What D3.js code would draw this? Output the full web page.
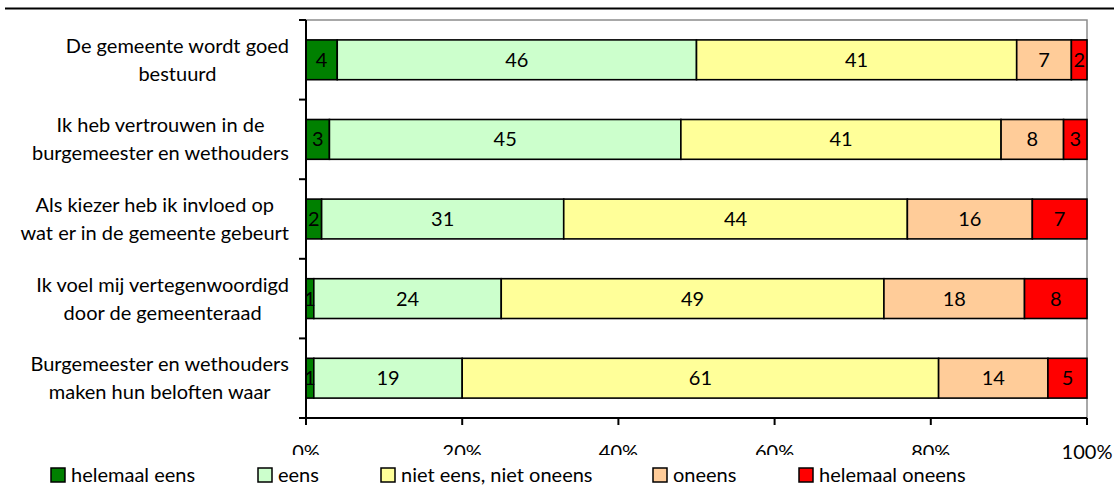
<!DOCTYPE html>
<html>
<head>
<meta charset="utf-8">
<script src="https://cdn.jsdelivr.net/npm/d3@7"></script>
<style>
  body { margin: 0; background: #fff; }
  svg { display: block; font-family: Lato, "Open Sans", sans-serif; }
</style>
</head>
<body>
<div id="chart"></div>
<script>
// data
const categories = [
  ["De gemeente wordt goed", "bestuurd"],
  ["Ik heb vertrouwen in de", "burgemeester en wethouders"],
  ["Als kiezer heb ik invloed op", "wat er in de gemeente gebeurt"],
  ["Ik voel mij vertegenwoordigd", "door de gemeenteraad"],
  ["Burgemeester en wethouders", "maken hun beloften waar"]
];
const seriesNames = ["helemaal eens", "eens", "niet eens, niet oneens", "oneens", "helemaal oneens"];
const seriesColors = ["#008000", "#ccffcc", "#ffff99", "#ffcc99", "#ff0000"];
const helemaalEens = [4, 3, 2, 1, 1];
const eens = [46, 45, 31, 24, 19];
const nietEensNietOneens = [41, 41, 44, 49, 61];
const oneens = [7, 8, 16, 18, 14];
const helemaalOneens = [2, 3, 7, 8, 5];
const xTicks = [0, 20, 40, 60, 80, 100];

const values = [helemaalEens, eens, nietEensNietOneens, oneens, helemaalOneens];

const W = 1114, H = 497;
const plot = { left: 306, right: 1087, top: 20, bottom: 418 };
const fontSize = 20;

const svg = d3.select('#chart').append('svg')
  .attr('width', W).attr('height', H);

// top rule
svg.append('line')
  .attr('x1', 5).attr('x2', W).attr('y1', 8.5).attr('y2', 8.5)
  .attr('stroke', '#000').attr('stroke-width', 2);

const x = d3.scaleLinear().domain([0, 100]).range([plot.left, plot.right]);
const keys = categories.map((c, i) => i);
const y = d3.scaleBand().domain(keys).range([plot.top, plot.bottom])
  .paddingInner(0.5).paddingOuter(0.25);

// plot area border (gray top / right)
svg.append('path')
  .attr('d', `M${plot.left},${plot.top}H${plot.right}V${plot.bottom}`)
  .attr('fill', 'none').attr('stroke', '#8c8c8c').attr('stroke-width', 1.5);

// stacked rows
const rows = keys.map(i => {
  let acc = 0;
  return values.map((s, k) => {
    const d = { row: i, k: k, v: s[i], x0: acc, x1: acc + s[i] };
    acc += s[i];
    return d;
  });
});

const g = svg.append('g');
rows.forEach(row => {
  const segs = g.selectAll(null).data(row).enter();
  segs.append('rect')
    .attr('x', d => x(d.x0))
    .attr('y', d => y(d.row))
    .attr('width', d => x(d.x1) - x(d.x0))
    .attr('height', y.bandwidth())
    .attr('fill', d => seriesColors[d.k])
    .attr('stroke', '#000').attr('stroke-width', 1.6);
  segs.append('text')
    .attr('x', d => (x(d.x0) + x(d.x1)) / 2)
    .attr('y', d => y(d.row) + y.bandwidth() / 2 + 7)
    .attr('text-anchor', 'middle')
    .attr('font-size', fontSize)
    .attr('fill', '#000')
    .text(d => d.v);
});

// y axis
const yEdges = keys.map(i => y(i) - y.step() * y.paddingOuter()).concat([plot.bottom]);
svg.append('line')
  .attr('x1', plot.left).attr('x2', plot.left)
  .attr('y1', plot.top).attr('y2', plot.bottom)
  .attr('stroke', '#000').attr('stroke-width', 2);
svg.selectAll('.ytick').data(yEdges).enter().append('line')
  .attr('x1', plot.left - 7).attr('x2', plot.left)
  .attr('y1', d => d).attr('y2', d => d)
  .attr('stroke', '#000').attr('stroke-width', 2);

// category labels, centred on their own block which ends at x = 289
categories.forEach((lines, i) => {
  const t = svg.append('text')
    .attr('font-size', fontSize).attr('fill', '#000')
    .attr('text-anchor', 'middle');
  const spans = lines.map((l, j) => t.append('tspan').text(l)
    .attr('y', y(i) + y.bandwidth() / 2 + (j === 0 ? -14 : 14) + 7));
  const maxW = d3.max(spans, s => s.node().getComputedTextLength());
  spans.forEach(s => s.attr('x', 289 - maxW / 2));
});

// x axis
svg.append('line')
  .attr('x1', plot.left - 7).attr('x2', plot.right)
  .attr('y1', plot.bottom).attr('y2', plot.bottom)
  .attr('stroke', '#000').attr('stroke-width', 2);
svg.selectAll('.xtick').data(xTicks).enter().append('line')
  .attr('x1', d => x(d)).attr('x2', d => x(d))
  .attr('y1', plot.bottom).attr('y2', plot.bottom + 7)
  .attr('stroke', '#000').attr('stroke-width', 2);

// tick labels, cut off by the legend box just like the original
const clip = svg.append('clipPath').attr('id', 'tickclip');
clip.append('rect').attr('x', 0).attr('y', 0).attr('width', W).attr('height', 455);
clip.append('rect').attr('x', 1000).attr('y', 0).attr('width', W - 1000).attr('height', H);
svg.append('g').attr('clip-path', 'url(#tickclip)')
  .selectAll('text').data(xTicks).enter().append('text')
  .attr('x', d => x(d)).attr('y', 459)
  .attr('text-anchor', 'middle')
  .attr('font-size', fontSize)
  .text(d => d + '%');

// legend
const legendX = [51, 258, 381, 653, 799];
const lg = svg.append('g').selectAll('g').data(seriesNames).enter().append('g')
  .attr('transform', (d, i) => `translate(${legendX[i]},468)`);
lg.append('rect')
  .attr('width', 14).attr('height', 14)
  .attr('fill', (d, i) => seriesColors[i])
  .attr('stroke', '#000').attr('stroke-width', 1.5);
lg.append('text')
  .attr('x', 20).attr('y', 14)
  .attr('font-size', fontSize)
  .text(d => d);
</script>
</body>
</html>
